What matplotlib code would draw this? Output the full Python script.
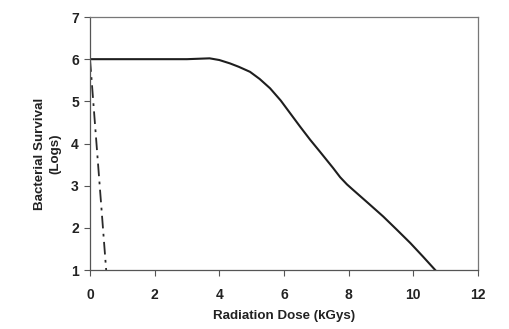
import matplotlib
matplotlib.use("Agg")
import matplotlib.pyplot as plt

plt.rcParams['font.family'] = ['Liberation Sans', 'DejaVu Sans']

dose_solid = [0, 1, 2, 3, 3.7, 4.0, 4.33, 4.6, 4.95, 5.25, 5.57, 5.9, 6.19, 6.5, 6.81, 7.12, 7.52, 7.74, 7.95, 8.14, 8.6, 9.07, 9.5, 9.91, 10.3, 10.68]
surv_solid = [6.0, 6.0, 6.0, 6.0, 6.02, 5.98, 5.9, 5.82, 5.7, 5.53, 5.31, 5.02, 4.72, 4.4, 4.09, 3.8, 3.42, 3.2, 3.03, 2.9, 2.59, 2.27, 1.95, 1.64, 1.32, 1.0]

dose_dash = [0.0, 0.5]
surv_dash = [6.0, 1.0]

xticks = [0, 2, 4, 6, 8, 10, 12]
yticks = [1, 2, 3, 4, 5, 6, 7]

fig = plt.figure(figsize=(5.1, 3.29), dpi=100)
ax = fig.add_axes([0.1765, 0.1793, 0.7605, 0.7690])

ax.plot(dose_solid, surv_solid, color='#1e1e1e', lw=1.5, solid_joinstyle='round')
ax.plot(dose_dash, surv_dash, color='#2a2a2a', lw=1.3, linestyle=(0, (7, 3, 1.5, 3)))

ax.set_xlim(0, 12)
ax.set_ylim(1, 7)
ax.set_xticks(xticks)
ax.set_yticks(yticks)
ax.set_xticklabels([str(t) for t in xticks], fontsize=10, fontweight='bold', color='#222222')
ax.set_yticklabels([str(t) for t in yticks], fontsize=10, fontweight='bold', color='#222222')
ax.tick_params(direction='out', length=4, width=0.8, color='#555555')
ax.tick_params(axis='x', pad=9)
ax.tick_params(axis='y', pad=4)

for s in ['left', 'bottom']:
    ax.spines[s].set_color('#555555')
    ax.spines[s].set_linewidth(0.9)
for s in ['top', 'right']:
    ax.spines[s].set_color('#777777')
    ax.spines[s].set_linewidth(0.9)

fig.text(284 / 510, 1 - 316 / 329, 'Radiation Dose (kGys)', fontsize=9.6, fontweight='bold',
         color='#222222', ha='center', va='center')
fig.text(48 / 510, 1 - 154 / 329, 'Bacterial Survival\n(Logs)', fontsize=9.6, fontweight='bold',
         color='#222222', ha='center', va='center', rotation=90, multialignment='center',
         linespacing=1.35)

fig.savefig('out.png', dpi=100)
